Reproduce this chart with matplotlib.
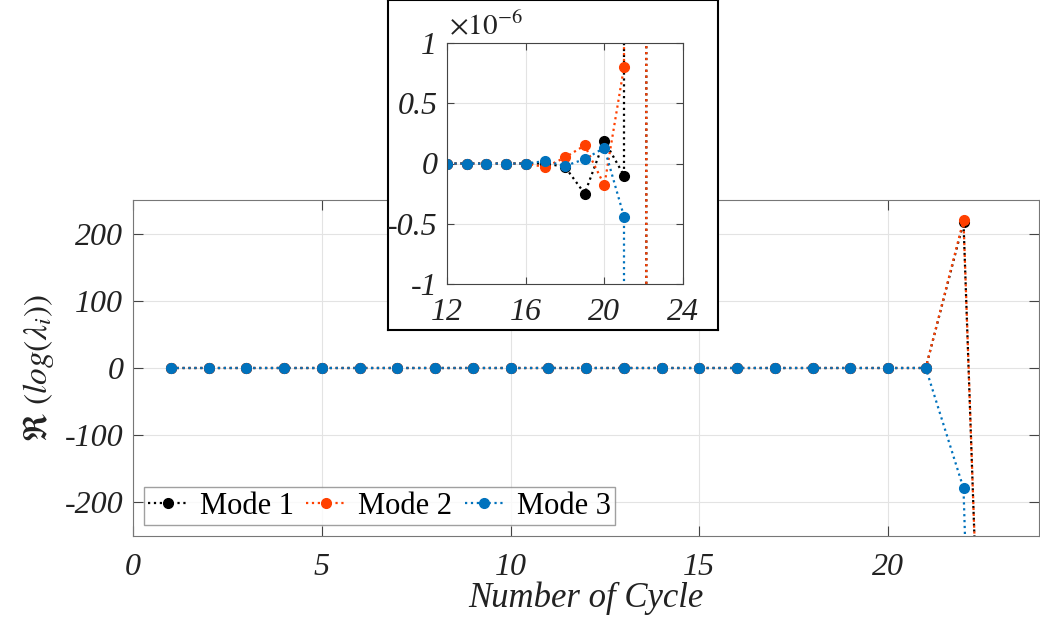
import numpy as np
import matplotlib
matplotlib.use("Agg")
import matplotlib.pyplot as plt

plt.rcParams['font.family'] = ['Liberation Serif', 'DejaVu Serif']
plt.rcParams['mathtext.fontset'] = 'stix'
plt.rcParams['axes.unicode_minus'] = False

# cycles and real part of log eigenvalues per mode
cycles = list(range(1, 24))
mode1 = [0] * 17 + [-0.028e-6, -0.25e-6, 0.19e-6, -0.10e-6, 217, -1400]
mode2 = [0] * 16 + [-0.03e-6, 0.05e-6, 0.15e-6, -0.18e-6, 0.80e-6, 220, -1400]
mode3 = [0] * 16 + [0.02e-6, -0.02e-6, 0.036e-6, 0.13e-6, -0.44e-6, -179, -2000]

labels = ['Mode 1', 'Mode 2', 'Mode 3']
colors = ['#000000', '#FF4000', '#0072BD']
series = [mode1, mode2, mode3]

fig = plt.figure(figsize=(10.4, 6.25), dpi=100)
ax = fig.add_axes([133/1040, 1-536/625, (1039-133)/1040, (536-200)/625])

for y, lab, c in zip(series, labels, colors):
    ax.plot(cycles, y, ':', color=c, marker='o', markersize=7, lw=1.6, label=lab)

ax.set_xlim(0, 24)
ax.set_ylim(-250, 250)
ax.set_xticks([0, 5, 10, 15, 20])
ax.set_yticks([-200, -100, 0, 100, 200])
ax.grid(True, color='#e3e3e3', lw=0.8)
ax.set_axisbelow(True)
ax.tick_params(direction='in', top=True, right=True, length=7, color='#444444',
               labelsize=23)
ax.tick_params(axis='x', pad=12)
ax.tick_params(axis='y', pad=7)
for lab in ax.get_xticklabels() + ax.get_yticklabels():
    lab.set_fontstyle('italic')
    lab.set_color('#222222')
for sp in ax.spines.values():
    sp.set_color('#777777')
ax.set_xlabel('Number of Cycle', fontsize=25, fontstyle='italic', labelpad=0,
              color='#222222')
ax.set_ylabel(r'$\Re\ (log(\lambda_i))$', fontsize=24, labelpad=6, color='#222222')

leg = ax.legend(loc='lower left', ncol=3, fontsize=22, frameon=True, fancybox=False,
                handlelength=1.3, handletextpad=0.4, columnspacing=0.4,
                borderpad=0.15, borderaxespad=0.35)
leg.get_frame().set_edgecolor('#888888')
leg.get_frame().set_linewidth(1.0)

# inset frame
box = fig.add_axes([388/1040, 1-330/625, 330/1040, 330/625], zorder=5)
box.set_xticks([])
box.set_yticks([])
for sp in box.spines.values():
    sp.set_color('black')
    sp.set_linewidth(1.5)

ins = fig.add_axes([447/1040, 1-284/625, (683-447)/1040, (284-43)/625], zorder=6)
for y, c in zip(series, colors):
    ins.plot(cycles, np.array(y) * 1e6, ':', color=c, marker='o', markersize=7, lw=1.6)
ins.set_xlim(12, 24)
ins.set_ylim(-1, 1)
ins.set_xticks([12, 16, 20, 24])
ins.set_yticks([-1, -0.5, 0, 0.5, 1])
ins.set_yticklabels(['-1', '-0.5', '0', '0.5', '1'])
ins.grid(True, color='#e3e3e3', lw=0.8)
ins.set_axisbelow(True)
ins.tick_params(direction='in', top=True, right=True, length=5, color='#444444',
                labelsize=23)
ins.tick_params(axis='x', pad=10)
ins.tick_params(axis='y', pad=7)
for lab in ins.get_xticklabels() + ins.get_yticklabels():
    lab.set_fontstyle('italic')
    lab.set_color('#222222')
for sp in ins.spines.values():
    sp.set_color('#444444')
ins.text(0.01, 1.01, r'$\times\mathit{10^{-6}}$', transform=ins.transAxes,
         fontsize=21, ha='left', va='bottom', color='#222222')

fig.savefig('out.png', dpi=100)
